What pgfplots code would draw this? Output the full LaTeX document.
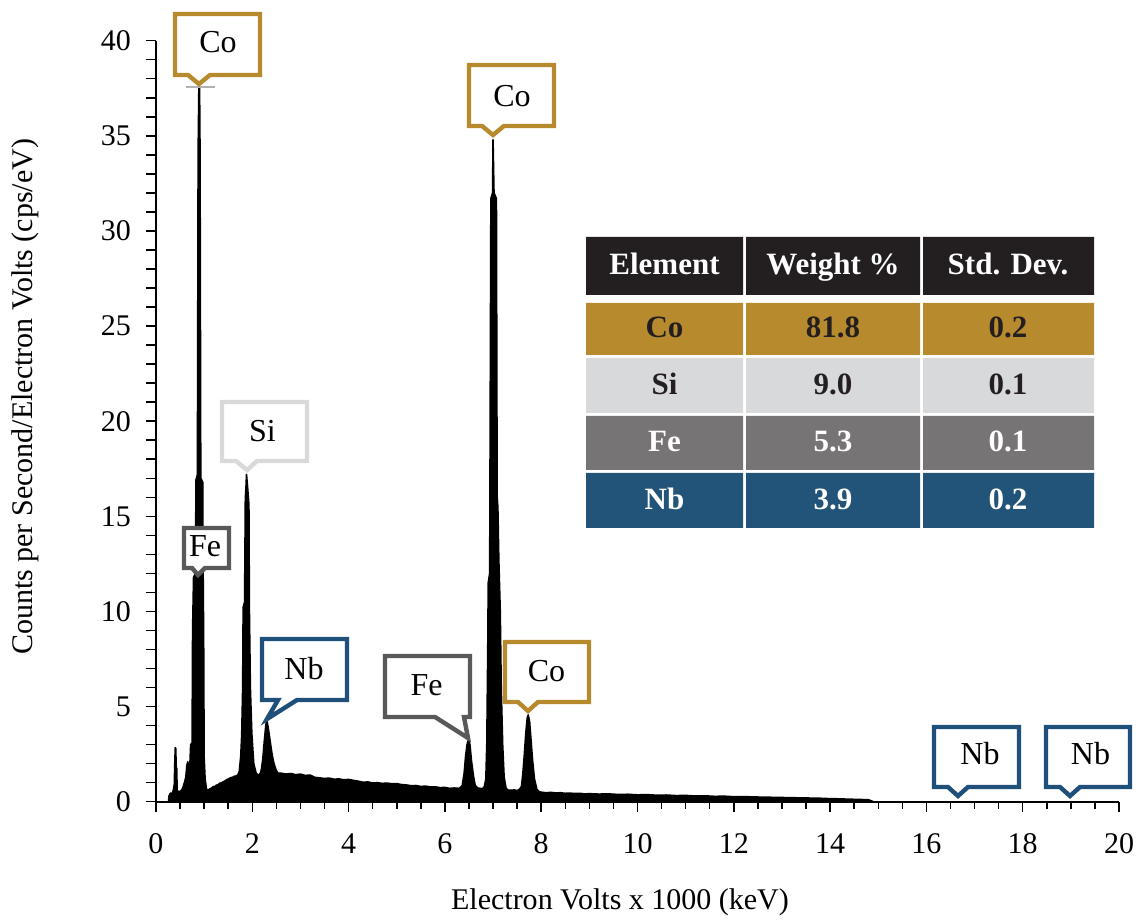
\documentclass[border=0pt]{standalone}
\usepackage{fontspec}
\setmainfont{Liberation Serif}
\usepackage{pgfplots}
\pgfplotsset{compat=1.18}
\definecolor{cogold}{RGB}{184,138,46}
\definecolor{nbblue}{RGB}{31,80,121}
\definecolor{fegrey}{RGB}{89,89,89}
\definecolor{silight}{RGB}{217,217,217}
\definecolor{hdr}{RGB}{35,31,32}
\definecolor{tsi}{RGB}{216,217,219}
\definecolor{tfe}{RGB}{118,116,117}
\definecolor{tnb}{RGB}{33,84,120}
\newcommand{\lab}{\fontsize{16}{19}\selectfont}
\newcommand{\tab}{\fontsize{15.5}{18}\selectfont\bfseries}
\begin{document}
\begin{tikzpicture}
\begin{axis}[
  scale only axis, width=481.5pt, height=380.5pt,
  xmin=0, xmax=20, ymin=0, ymax=40,
  axis lines*=left,
  axis line style={line width=1pt, black},
  xtick={0,2,...,20}, ytick={0,5,...,40},
  minor x tick num=3,
  extra y ticks={1,2,3,4,6,7,8,9,11,12,13,14,16,17,18,19,21,22,23,24,26,27,28,29,31,32,33,34,36,37,38,39},
  extra y tick labels={},
  tick align=outside, major tick length=5pt, minor tick length=3.5pt,
  tick style={black, line width=0.75pt},
  ticklabel style={font=\fontsize{15}{18}\selectfont},
  xticklabel style={yshift=-7.5pt},
  yticklabel style={xshift=-4pt},
  /pgf/number format/assume math mode=true,
  xlabel={Electron Volts x 1000 (keV)},
  ylabel={Counts per Second/Electron Volts (cps/eV)},
  label style={font=\fontsize{15}{18}\selectfont},
  xlabel style={at={(axis description cs:0.4818,-0.1325)}, anchor=center},
  ylabel style={at={(axis description cs:-0.136,0.532)}, anchor=center},
  clip=false,
]
\addplot[fill=black, draw=black, line width=0.8pt, line join=round] coordinates {
(0.26,0)(0.27,0.3)(0.30,0.45)(0.33,0.4)(0.36,0.6)(0.38,0.9)(0.39,2.0)(0.40,2.84)(0.41,2.8)(0.42,1.8)(0.43,1.75)(0.44,0.6)(0.47,0.5)(0.50,0.55)(0.53,0.6)(0.56,0.75)(0.59,1.0)(0.62,1.3)(0.64,1.9)(0.66,2.1)(0.68,1.8)(0.70,1.7)(0.72,3.0)(0.75,3.1)(0.76,9.0)(0.78,11.8)(0.82,12.0)(0.83,16.9)(0.86,17.2)(0.875,34.1)(0.89,37.5)(0.905,37.5)(0.915,34.1)(0.93,17.0)(0.97,16.8)(0.98,11.8)(0.99,8.5)(1.00,2.3)(1.02,1.2)(1.05,0.65)(1.08,0.6)(1.12,0.68)(1.16,0.72)(1.19,0.8)(1.22,0.78)(1.25,0.86)(1.29,0.9)(1.32,0.96)(1.36,1.0)(1.40,1.05)(1.44,1.1)(1.47,1.16)(1.51,1.2)(1.55,1.26)(1.59,1.28)(1.62,1.33)(1.66,1.35)(1.70,1.4)(1.73,1.6)(1.76,2.4)(1.78,3.5)(1.80,6.0)(1.81,10.2)(1.84,10.5)(1.855,15.9)(1.87,16.6)(1.88,17.2)(1.90,16.6)(1.93,15.6)(1.94,10.0)(1.96,6.0)(1.99,3.6)(2.03,2.0)(2.08,1.5)(2.12,1.4)(2.16,1.45)(2.19,1.7)(2.22,2.3)(2.25,3.2)(2.28,4.0)(2.30,4.3)(2.33,3.9)(2.37,3.2)(2.41,2.5)(2.45,2.0)(2.49,1.7)(2.53,1.5)
(2.6,1.5)(2.7,1.45)(2.8,1.48)(2.9,1.42)(3.0,1.45)(3.1,1.38)(3.2,1.40)(3.3,1.28)(3.4,1.25)(3.5,1.22)(3.6,1.24)(3.7,1.18)(3.8,1.2)(3.9,1.15)(4.0,1.17)(4.1,1.12)(4.2,1.08)(4.3,1.02)(4.4,1.04)(4.5,0.98)(4.6,1.0)(4.7,0.96)(4.8,0.98)(4.9,0.94)(5.0,0.95)(5.1,0.9)(5.2,0.88)(5.3,0.84)(5.4,0.85)(5.5,0.8)(5.6,0.82)(5.7,0.77)(5.8,0.78)(5.9,0.74)(6.0,0.75)(6.1,0.7)(6.2,0.72)
(6.30,0.7)(6.36,0.85)(6.40,1.5)(6.43,2.4)(6.46,3.0)(6.49,3.28)(6.52,3.0)(6.55,2.2)(6.59,1.4)(6.63,0.85)(6.68,0.72)(6.73,0.7)(6.78,0.68)
(6.82,0.8)(6.85,1.2)(6.87,3.0)(6.89,8.0)(6.90,11.5)(6.93,12.0)(6.935,15.9)(6.955,31.7)(6.99,32.0)(7.00,34.8)(7.02,32.0)(7.07,31.7)(7.085,16.0)(7.10,15.5)(7.12,12.7)(7.15,10.0)(7.17,6.0)(7.20,3.0)(7.23,1.3)(7.27,0.7)(7.32,0.6)(7.38,0.6)(7.44,0.62)(7.50,0.58)
(7.55,0.65)(7.59,0.8)(7.62,1.5)(7.65,2.5)(7.68,3.6)(7.71,4.4)(7.73,4.56)(7.76,4.2)(7.79,3.2)(7.82,2.2)(7.86,1.2)(7.91,0.65)(7.96,0.52)
(8.0,0.5)(8.1,0.47)(8.2,0.49)(8.3,0.46)(8.4,0.47)(8.5,0.44)(8.6,0.45)(8.7,0.43)(8.8,0.44)(8.9,0.41)(9.0,0.42)(9.2,0.40)(9.4,0.41)(9.6,0.38)(9.8,0.39)(10.0,0.36)(10.2,0.37)(10.4,0.34)(10.6,0.35)(10.8,0.32)(11.0,0.33)(11.2,0.30)(11.4,0.31)(11.6,0.28)(11.8,0.29)(12.0,0.26)(12.2,0.27)(12.4,0.25)(12.6,0.24)(12.8,0.23)(13.0,0.22)(13.2,0.21)(13.4,0.2)(13.6,0.19)(13.8,0.18)(14.0,0.16)(14.2,0.15)(14.4,0.13)(14.6,0.12)(14.8,0.1)(14.9,0.0)
} \closedcycle;
\addplot[gray!60, line width=0.8pt] coordinates {(0.62,37.57)(1.225,37.57)};
\end{axis}
\begin{scope}[x=0.5pt, y=-0.5pt, shift={(-78pt,400.85pt)}, line width=2.2pt, line join=miter]
% callouts
\draw[cogold, fill=white] (175,14)--(260,14)--(260,75)--(210,75)--(199,84)--(188,75)--(175,75)--cycle;
\node[anchor=base, font=\lab] at (218,53) {Co};
\draw[cogold, fill=white] (469,65)--(554,65)--(554,126)--(504,126)--(493,135)--(482,126)--(469,126)--cycle;
\node[anchor=base, font=\lab] at (512,107) {Co};
\draw[silight, fill=white] (222,402)--(307,402)--(307,461)--(257,461)--(247,470)--(236,461)--(222,461)--cycle;
\node[anchor=base, font=\lab] at (262.5,441.7) {Si};
\draw[fegrey, fill=white] (184,528)--(229,528)--(229,568)--(205,568)--(198,575)--(192,568)--(184,568)--cycle;
\node[anchor=base, font=\lab] at (205,556.7) {Fe};
\draw[nbblue, fill=white] (262,639)--(347,639)--(347,700)--(297,700)--(267,719)--(278,700)--(262,700)--cycle;
\node[anchor=base, font=\lab] at (304,680) {Nb};
\draw[fegrey, fill=white] (385,656)--(470,656)--(470,717)--(464,717)--(468,738)--(435,717)--(385,717)--cycle;
\node[anchor=base, font=\lab] at (426.5,696) {Fe};
\draw[cogold, fill=white] (505,642)--(589,642)--(589,702)--(538,702)--(528,711)--(518,702)--(505,702)--cycle;
\node[anchor=base, font=\lab] at (546.5,681.7) {Co};
\draw[nbblue, fill=white] (934,727)--(1019,727)--(1019,787)--(968,787)--(958,796)--(948,787)--(934,787)--cycle;
\node[anchor=base, font=\lab] at (980,765) {Nb};
\draw[nbblue, fill=white] (1046,727)--(1130,727)--(1130,787)--(1080,787)--(1070,796)--(1060,787)--(1046,787)--cycle;
\node[anchor=base, font=\lab] at (1090.5,765) {Nb};
% table
\fill[hdr] (586,237) rectangle (743,295) (746,237) rectangle (920,295) (923,237) rectangle (1094,295);
\fill[cogold] (586,303) rectangle (743,355) (746,303) rectangle (920,355) (923,303) rectangle (1094,355);
\fill[tsi] (586,358) rectangle (743,413) (746,358) rectangle (920,413) (923,358) rectangle (1094,413);
\fill[tfe] (586,416) rectangle (743,470) (746,416) rectangle (920,470) (923,416) rectangle (1094,470);
\fill[tnb] (586,473) rectangle (743,528) (746,473) rectangle (920,528) (923,473) rectangle (1094,528);
\node[anchor=base, font=\tab, text=white] at (664.5,275) {Element};
\node[anchor=base, font=\tab, text=white] at (833,275) {Weight \%};
\node[anchor=base, font=\tab, text=white] at (1008,275) {Std. Dev.};
\node[anchor=base, font=\tab, text=hdr] at (664.5,338) {Co};
\node[anchor=base, font=\tab, text=hdr] at (833,338) {81.8};
\node[anchor=base, font=\tab, text=hdr] at (1008,338) {0.2};
\node[anchor=base, font=\tab, text=hdr] at (664.5,395) {Si};
\node[anchor=base, font=\tab, text=hdr] at (833,395) {9.0};
\node[anchor=base, font=\tab, text=hdr] at (1008,395) {0.1};
\node[anchor=base, font=\tab, text=white] at (664.5,452) {Fe};
\node[anchor=base, font=\tab, text=white] at (833,452) {5.3};
\node[anchor=base, font=\tab, text=white] at (1008,452) {0.1};
\node[anchor=base, font=\tab, text=white] at (664.5,510) {Nb};
\node[anchor=base, font=\tab, text=white] at (833,510) {3.9};
\node[anchor=base, font=\tab, text=white] at (1008,510) {0.2};
\end{scope}
\pgfresetboundingbox
\path[use as bounding box] (-78pt,-59.15pt) rectangle (492pt,400.85pt);
\end{tikzpicture}
\end{document}
